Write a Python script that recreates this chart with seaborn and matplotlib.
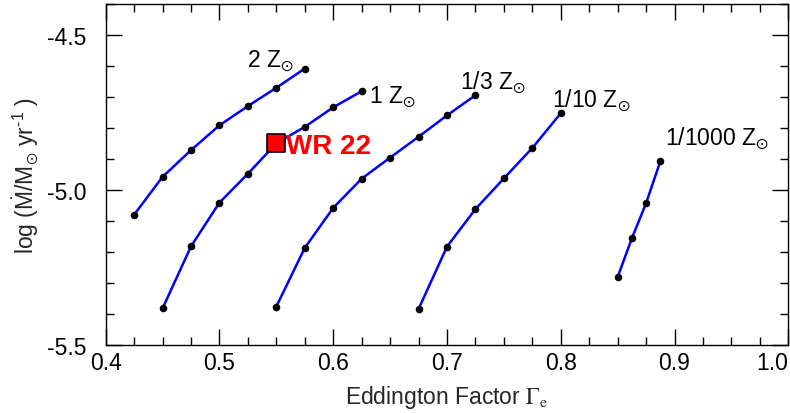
import matplotlib
matplotlib.use("Agg")
import matplotlib.pyplot as plt
from matplotlib.ticker import MultipleLocator
import seaborn as sns
import pandas as pd

# ---- data ----
gamma_2z = [0.425, 0.45, 0.475, 0.5, 0.525, 0.55, 0.575]
mdot_2z = [-5.080, -4.958, -4.872, -4.792, -4.730, -4.671, -4.609]

gamma_1z = [0.45, 0.475, 0.5, 0.525, 0.55, 0.575, 0.6, 0.625]
mdot_1z = [-5.382, -5.182, -5.041, -4.948, -4.850, -4.797, -4.734, -4.682]

gamma_13z = [0.55, 0.575, 0.6, 0.625, 0.65, 0.675, 0.7, 0.725]
mdot_13z = [-5.376, -5.187, -5.058, -4.964, -4.896, -4.829, -4.760, -4.695]

gamma_110z = [0.675, 0.7, 0.725, 0.75, 0.775, 0.8]
mdot_110z = [-5.384, -5.183, -5.062, -4.963, -4.865, -4.753]

gamma_11000z = [0.85, 0.8625, 0.875, 0.8875]
mdot_11000z = [-5.281, -5.156, -5.043, -4.908]

series_names = ["2 Z", "1 Z", "1/3 Z", "1/10 Z", "1/1000 Z"]
label_x = [0.5239, 0.6314, 0.7114, 0.792, 0.8916]
label_y = [-4.600, -4.717, -4.673, -4.729, -4.852]

wr22_gamma = [0.55]
wr22_mdot = [-4.85]
wr22_label = "WR 22"

xticks = [0.4, 0.5, 0.6, 0.7, 0.8, 0.9, 1.0]
yticks = [-5.5, -5.0, -4.5]

# ---- table ----
frames = []
for name, g, m in zip(series_names,
                      [gamma_2z, gamma_1z, gamma_13z, gamma_110z, gamma_11000z],
                      [mdot_2z, mdot_1z, mdot_13z, mdot_110z, mdot_11000z]):
    frames.append(pd.DataFrame({"gamma": g, "mdot": m, "Z": name}))
df = pd.concat(frames, ignore_index=True)

sns.set_theme(style="ticks")
plt.rcParams["font.family"] = ["Liberation Sans", "DejaVu Sans"]
plt.rcParams["mathtext.fontset"] = "custom"
plt.rcParams["mathtext.rm"] = "Liberation Sans"
plt.rcParams["mathtext.it"] = "Liberation Sans:italic"
plt.rcParams["mathtext.bf"] = "Liberation Sans:bold"
plt.rcParams["mathtext.sf"] = "Liberation Sans"
plt.rcParams["mathtext.fallback"] = "stixsans"

FS = 16.5
fig = plt.figure(figsize=(7.9, 4.14), dpi=100)
ax = fig.add_axes([105.7 / 790, 1 - 346 / 414, (788.3 - 105.7) / 790, (346 - 4.7) / 414])

sns.lineplot(data=df, x="gamma", y="mdot", units="Z", estimator=None, sort=False,
             color="#0000ff", linewidth=1.8, ax=ax, legend=False)
sns.scatterplot(data=df, x="gamma", y="mdot", color="black", s=30, linewidth=0,
                ax=ax, legend=False, zorder=3)

ax.scatter(wr22_gamma, wr22_mdot, marker="s", s=150, color="#ff0000",
           edgecolor="black", linewidth=1.2, zorder=5)
ax.text(wr22_gamma[0] + 0.0085, wr22_mdot[0], wr22_label, color="#ff0000",
        fontsize=20, fontweight="bold", ha="left", va="center_baseline", zorder=6)

for name, lx, ly in zip(series_names, label_x, label_y):
    ax.text(lx, ly, name + r"$_{\odot}$", fontsize=FS, ha="left", va="baseline",
            color="black")

ax.set_xlim(0.4, 1.0)
ax.set_ylim(-5.5, -4.4)
ax.set_xticks(xticks)
ax.set_xticklabels([f"{v:.1f}" for v in xticks])
ax.set_yticks(yticks)
ax.set_yticklabels([f"{v:.1f}" for v in yticks])
ax.xaxis.set_minor_locator(MultipleLocator(0.025))
ax.yaxis.set_minor_locator(MultipleLocator(0.1))

ax.tick_params(which="both", direction="in", top=True, right=True,
               width=1.0, color="black", labelsize=FS, labelcolor="black")
ax.tick_params(which="major", length=11.5)
ax.tick_params(which="minor", length=5.5)
ax.tick_params(axis="x", which="major", pad=4.5)
ax.tick_params(axis="y", which="major", pad=14)
ax.get_xticklabels()[-1].set_horizontalalignment("right")

for sp in ax.spines.values():
    sp.set_visible(True)
    sp.set_linewidth(1.0)
    sp.set_color("black")

ax.set_xlabel(r"Eddington Factor $\Gamma_{\rm e}$", fontsize=FS, labelpad=6,
              math_fontfamily="stix")
ax.set_ylabel(r"log ($\dot{\rm M}$/M$_{\odot}$ yr$^{\text{-1}}$ )", fontsize=FS, labelpad=4)

fig.savefig("out.png", dpi=100)
